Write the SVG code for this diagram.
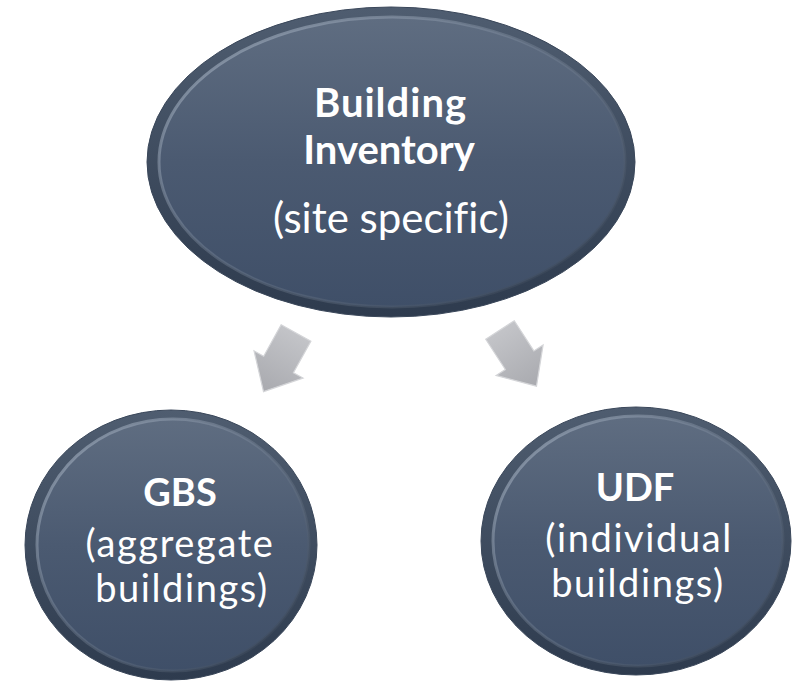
<svg xmlns="http://www.w3.org/2000/svg" width="793" height="681" viewBox="0 0 793 681">
  <defs>
    <linearGradient id="rimGrad" x1="0" y1="0" x2="0" y2="1">
      <stop offset="0" stop-color="#4f5d70"/>
      <stop offset="1" stop-color="#2e3b4e"/>
    </linearGradient>
    <linearGradient id="faceGrad" x1="0" y1="0" x2="0" y2="1">
      <stop offset="0" stop-color="#5f6d81"/>
      <stop offset="0.5" stop-color="#4b5a71"/>
      <stop offset="1" stop-color="#3f4f68"/>
    </linearGradient>
    <linearGradient id="hiGrad" x1="0" y1="0" x2="1" y2="1">
      <stop offset="0" stop-color="#9aa7b8" stop-opacity="0.9"/>
      <stop offset="0.45" stop-color="#7d8a9c" stop-opacity="0.4"/>
      <stop offset="1" stop-color="#2a3647" stop-opacity="0.6"/>
    </linearGradient>
    <linearGradient id="arrowGrad" x1="0" y1="0" x2="0" y2="1">
      <stop offset="0" stop-color="#c3c4c8"/>
      <stop offset="1" stop-color="#a9aaaf"/>
    </linearGradient>
  </defs>
  <style>
    .rim { fill: url(#rimGrad); stroke: #3a475a; stroke-width: 1; }
    .face { fill: url(#faceGrad); stroke: url(#hiGrad); stroke-width: 3; }
    .t { fill: #ffffff; font-family: Lato, "Open Sans", "Liberation Sans", sans-serif; text-anchor: middle; font-variant-ligatures: none; font-feature-settings: "liga" 0; }
    .b { font-weight: bold; }
    .w { letter-spacing: 1.6px; }
    .arrow { fill: url(#arrowGrad); stroke: #d4d5d8; stroke-width: 1.2; stroke-linejoin: miter; }
  </style>

  <g id="node-building-inventory">
    <ellipse class="rim" cx="391" cy="162" rx="244" ry="155"/>
    <ellipse class="face" cx="392" cy="162" rx="233" ry="145"/>
    <text class="t b" x="390.5" y="117" font-size="40" letter-spacing="1">Building</text>
    <text class="t b" x="389" y="164" font-size="40">Inventory</text>
    <text class="t" x="391" y="233" font-size="42">(site specific)</text>
  </g>

  <g id="node-gbs">
    <ellipse class="rim" cx="171" cy="545" rx="146" ry="135"/>
    <ellipse class="face" cx="173" cy="545" rx="136" ry="126"/>
    <text class="t b" x="180" y="506" font-size="38">GBS</text>
    <text class="t w" x="180" y="557" font-size="38">(aggregate</text>
    <text class="t w" x="182" y="602" font-size="38">buildings)</text>
  </g>

  <g id="node-udf">
    <ellipse class="rim" cx="636" cy="541" rx="155" ry="134"/>
    <ellipse class="face" cx="638" cy="541" rx="145" ry="125"/>
    <text class="t b" x="635" y="501" font-size="38">UDF</text>
    <text class="t w" x="639" y="552" font-size="38">(individual</text>
    <text class="t w" x="638" y="597" font-size="38">buildings)</text>
  </g>

  <g id="connectors">
    <path class="arrow" transform="translate(296,333) rotate(29)" d="M -17 0 L 17 0 L 17 36 L 28 36 L 0 67 L -28 36 L -17 36 Z"/>
    <path class="arrow" transform="translate(500,330) rotate(-33)" d="M -17 0 L 17 0 L 17 36 L 28 36 L 0 67 L -28 36 L -17 36 Z"/>
  </g>
</svg>
